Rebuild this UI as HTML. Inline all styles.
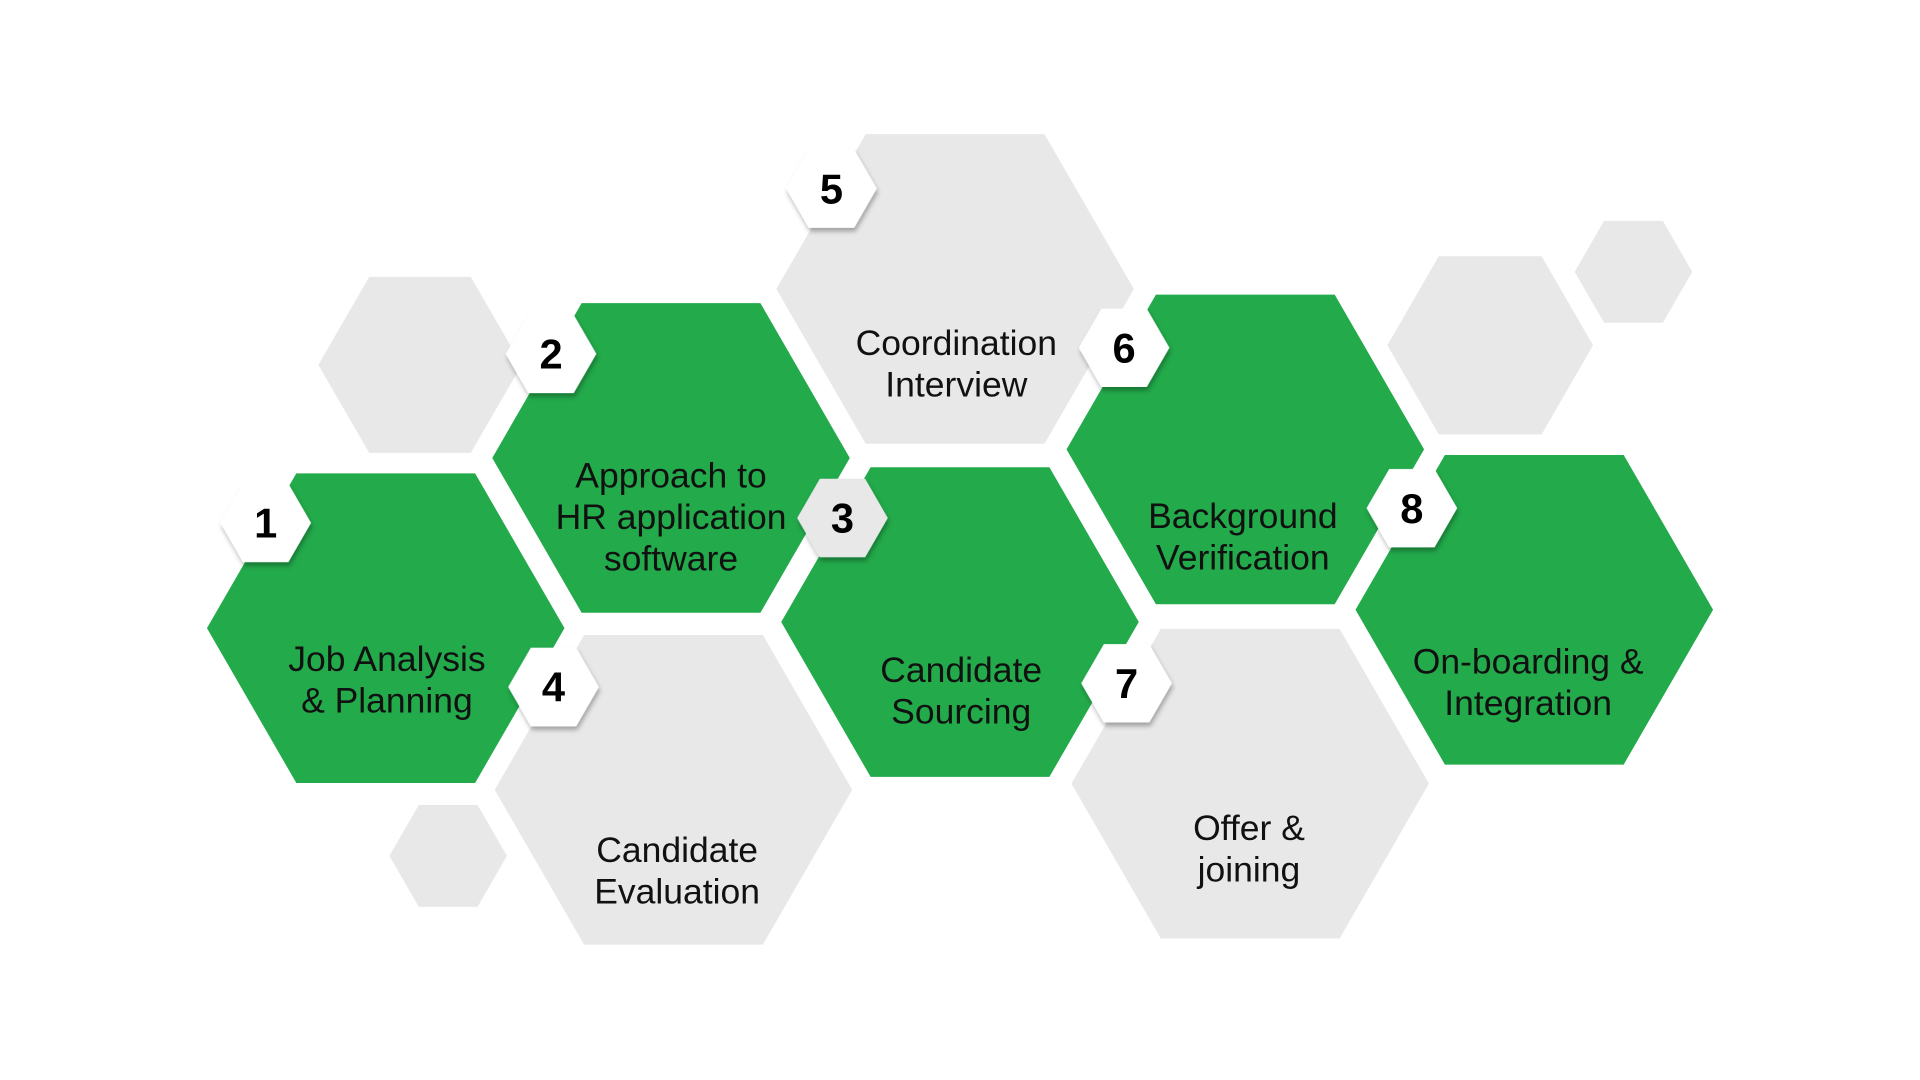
<!DOCTYPE html>
<html><head><meta charset="utf-8"><style>
html,body{margin:0;padding:0;background:#fff;}
svg{display:block;}
text{font-family:"Liberation Sans",sans-serif;}
</style></head><body>
<svg width="1920" height="1080" viewBox="0 0 1568 882" xmlns="http://www.w3.org/2000/svg">
<defs>
<polygon id="h" points="-1,0 -0.5,-0.866 0.5,-0.866 1,0 0.5,0.866 -0.5,0.866"/>
<filter id="sh" x="-30%" y="-30%" width="160%" height="170%"><feDropShadow dx="1" dy="3" stdDeviation="2" flood-color="#000" flood-opacity="0.3"/></filter>
</defs>
<g fill="#e8e8e8">
<use href="#h" transform="translate(343,298) scale(83)"/>
<use href="#h" transform="translate(366,699) scale(48)"/>
<use href="#h" transform="translate(1217,282) scale(84)"/>
<use href="#h" transform="translate(1334,222) scale(48)"/>
<use href="#h" transform="translate(780,236) scale(146)"/>
<use href="#h" transform="translate(550,645) scale(146)"/>
<use href="#h" transform="translate(1021,640) scale(146)"/>
</g>
<g fill="#23aa4b">
<use href="#h" transform="translate(315,513) scale(146)"/>
<use href="#h" transform="translate(548,374) scale(146)"/>
<use href="#h" transform="translate(784,508) scale(146)"/>
<use href="#h" transform="translate(1017,367) scale(146)"/>
<use href="#h" transform="translate(1253,498) scale(146)"/>
</g>
<g fill="#111" font-size="29" text-anchor="middle">
<text x="316" y="548">Job Analysis</text><text x="316" y="582">&amp; Planning</text>
<text x="548" y="398">Approach to</text><text x="548" y="432">HR application</text><text x="548" y="466">software</text>
<text x="781" y="290">Coordination</text><text x="781" y="324">Interview</text>
<text x="785" y="557">Candidate</text><text x="785" y="591">Sourcing</text>
<text x="1015" y="431">Background</text><text x="1015" y="465">Verification</text>
<text x="1248" y="550">On-boarding &amp;</text><text x="1248" y="584">Integration</text>
<text x="553" y="704">Candidate</text><text x="553" y="738">Evaluation</text>
<text x="1020" y="686">Offer &amp;</text><text x="1020" y="720">joining</text>
</g>
<g filter="url(#sh)">
<use href="#h" fill="#fff" transform="translate(679,154) scale(37)"/>
<use href="#h" fill="#fff" transform="translate(450,289) scale(37)"/>
<use href="#h" fill="#fff" transform="translate(217,427) scale(37)"/>
<use href="#h" fill="#e8e8e8" transform="translate(688,423) scale(37)"/>
<use href="#h" fill="#fff" transform="translate(452,561) scale(37)"/>
<use href="#h" fill="#fff" transform="translate(918,284) scale(37)"/>
<use href="#h" fill="#fff" transform="translate(920,558) scale(37)"/>
<use href="#h" fill="#fff" transform="translate(1153,415) scale(37)"/>
</g>
<g fill="#000" font-size="34" font-weight="bold" text-anchor="middle">
<text x="679" y="166">5</text>
<text x="450" y="301">2</text>
<text x="217" y="439">1</text>
<text x="688" y="435">3</text>
<text x="452" y="573">4</text>
<text x="918" y="296">6</text>
<text x="920" y="570">7</text>
<text x="1153" y="427">8</text>
</g>
</svg>
</body></html>
